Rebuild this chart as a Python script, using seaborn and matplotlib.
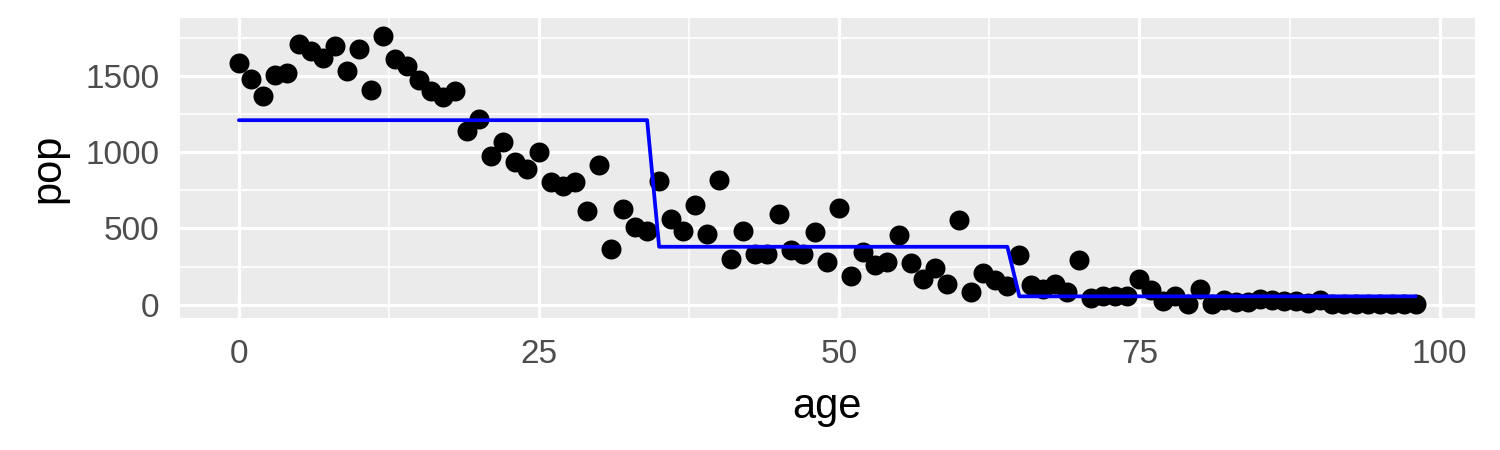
import numpy as np
import pandas as pd
import matplotlib
matplotlib.use("Agg")
import matplotlib.pyplot as plt
import seaborn as sns

age = list(range(0, 99))
pop = [1583, 1478, 1367, 1504, 1517, 1707, 1661, 1615, 1694, 1530,
       1674, 1406, 1759, 1609, 1563, 1471, 1400, 1360, 1400, 1138,
       1216, 975, 1066, 935, 889, 1000, 804, 778, 804, 615,
       916, 366, 628, 510, 484, 811, 562, 484, 654, 464,
       817, 301, 484, 334, 334, 595, 360, 334, 477, 281,
       634, 190, 347, 262, 281, 458, 275, 170, 242, 137,
       556, 85, 209, 164, 124, 327, 131, 105, 137, 85,
       294, 46, 60, 60, 60, 170, 95, 25, 60, 5,
       100, 8, 30, 18, 20, 40, 30, 22, 25, 12,
       30, 8, 8, 6, 8, 6, 7, 6, 8]
fit = [1210] * 35 + [380] * 30 + [55] * 34

df = pd.DataFrame({"age": age, "pop": pop, "fit": fit})

sns.set_theme(style="darkgrid")
plt.rcParams["font.family"] = ["Liberation Sans", "DejaVu Sans"]

fig, ax = plt.subplots(figsize=(5, 1.5), dpi=300)
fig.subplots_adjust(left=0.12, right=0.983, top=0.96, bottom=0.293)

ax.set_facecolor("#EBEBEB")
sns.scatterplot(data=df, x="age", y="pop", ax=ax, color="black", s=23,
                linewidth=0, zorder=3)
sns.lineplot(data=df, x="age", y="fit", ax=ax, color="#0000FF", linewidth=0.9,
             zorder=4)

ax.set_xlim(-4.9, 102.9)
ax.set_ylim(-88, 1880)
ax.set_xticks([0, 25, 50, 75, 100])
ax.set_yticks([0, 500, 1000, 1500])
ax.set_xticks([12.5, 37.5, 62.5, 87.5], minor=True)
ax.set_yticks([250, 750, 1250, 1750], minor=True)
ax.grid(which="major", color="white", linewidth=0.75)
ax.grid(which="minor", color="white", linewidth=0.4)
ax.set_axisbelow(True)
for s in ax.spines.values():
    s.set_visible(False)
ax.tick_params(axis="both", which="major", length=2.5, width=0.5, color="#333333",
               labelsize=8, labelcolor="#4D4D4D", pad=2.5)
ax.tick_params(axis="both", which="minor", length=0)
ax.set_xlabel("age", fontsize=10, color="black", labelpad=4)
ax.set_ylabel("pop", fontsize=10, color="black", labelpad=4)

fig.savefig("out.png", dpi=300)
